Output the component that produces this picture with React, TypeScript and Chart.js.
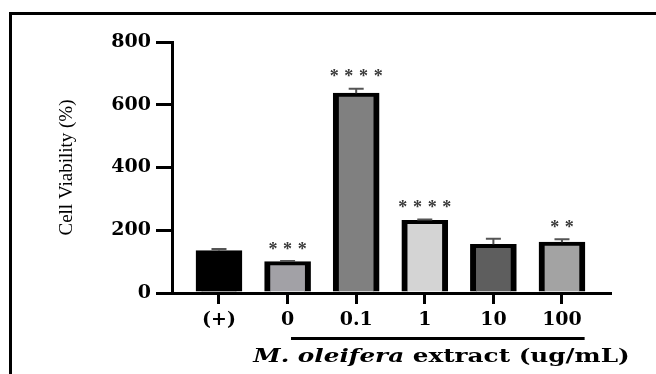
import React, { useEffect, useRef } from "react";
import { Chart, registerables } from "chart.js";

Chart.register(...registerables);

const categories = ["(+)", "0", "0.1", "1", "10", "100"];
const viability = [135, 100, 637, 232, 155, 162];
const sem = [5, 2, 14, 2, 18, 9];
const stars = ["", "***", "****", "****", "", "**"];
const barColors = ["#000000", "#a2a1a6", "#808080", "#d4d4d4", "#5e5e5e", "#a3a3a3"];
const yTickValues = [0, 200, 400, 600, 800];
const yTitle = "Cell Viability (%)";
const xTitleItalic = "M. oleifera";
const xTitleRest = " extract (ug/mL)";

const tickFont = { family: "'DejaVu Serif'", size: 19, weight: "bold" as const };

const annotations = {
  id: "annotations",
  afterDatasetsDraw(chart: any) {
    const ctx = chart.ctx;
    const x = chart.scales.x;
    const y = chart.scales.y;
    ctx.save();
    // error bars
    ctx.strokeStyle = "#555555";
    ctx.lineWidth = 2;
    viability.forEach((v, i) => {
      const px = x.getPixelForValue(i);
      const top = y.getPixelForValue(v);
      const e = y.getPixelForValue(v + sem[i]);
      ctx.beginPath();
      ctx.moveTo(px, top);
      ctx.lineTo(px, e);
      ctx.moveTo(px - 7.5, e);
      ctx.lineTo(px + 7.5, e);
      ctx.stroke();
    });
    // significance stars
    ctx.fillStyle = "#3a3a3a";
    ctx.font = "bold 18px 'Liberation Serif'";
    ctx.textAlign = "center";
    ctx.textBaseline = "middle";
    stars.forEach((s, i) => {
      if (!s) return;
      const px = x.getPixelForValue(i);
      const py = y.getPixelForValue(viability[i] + sem[i]) - 11;
      const step = 14.7;
      const start = px - ((s.length - 1) * step) / 2;
      for (let k = 0; k < s.length; k++) {
        ctx.fillText(s[k], start + k * step, py);
      }
    });
    // group line and title
    const bottom = chart.chartArea.bottom;
    ctx.strokeStyle = "#000000";
    ctx.lineWidth = 3;
    ctx.beginPath();
    ctx.moveTo(x.getPixelForValue(1.05), bottom + 45.5);
    ctx.lineTo(x.getPixelForValue(5.33), bottom + 45.5);
    ctx.stroke();
    ctx.fillStyle = "#000000";
    ctx.textAlign = "left";
    ctx.textBaseline = "alphabetic";
    const startX = x.getPixelForValue(0.5);
    const stretch = 1.3;
    ctx.translate(startX, bottom + 69);
    ctx.scale(stretch, 1);
    ctx.font = "italic bold 19px 'DejaVu Serif'";
    ctx.fillText(xTitleItalic, 0, 0);
    const w = ctx.measureText(xTitleItalic).width;
    ctx.font = "bold 19px 'DejaVu Serif'";
    ctx.fillText(xTitleRest, w, 0);
    ctx.restore();
  },
};

export default function App() {
  const ref = useRef<HTMLCanvasElement | null>(null);
  useEffect(() => {
    if (!ref.current) return;
    const chart = new Chart(ref.current, {
      type: "bar",
      data: {
        datasets: [
          {
            data: categories.map((_, i) => ({ x: i, y: viability[i] })),
            backgroundColor: barColors,
            borderColor: "#000000",
            borderWidth: { left: 6, right: 6, top: 4, bottom: 0 } as any,
            borderSkipped: "bottom",
            barThickness: 46,
          },
        ],
      },
      options: {
        responsive: false,
        animation: false,
        devicePixelRatio: 1,
        layout: { padding: { left: 0, top: 42, right: 46, bottom: 0 } },
        plugins: { legend: { display: false }, tooltip: { enabled: false } },
        scales: {
          x: {
            type: "linear",
            min: -0.685,
            max: 5.7,
            offset: false,
            afterBuildTicks: (scale: any) => {
              scale.ticks = categories.map((_, i) => ({ value: i }));
            },
            afterFit: (scale: any) => {
              scale.height = 81;
            },
            ticks: {
              autoSkip: false,
              maxRotation: 0,
              padding: 5,
              color: "#000000",
              font: tickFont,
              callback: (v: any) => categories[v] ?? "",
            },
            grid: {
              offset: false,
              drawOnChartArea: false,
              drawTicks: true,
              tickLength: 11,
              tickWidth: 3,
              lineWidth: 3,
              color: "#000000",
            },
            border: { display: true, color: "#000000", width: 3 },
          },
          y: {
            min: 0,
            max: 800,
            afterBuildTicks: (scale: any) => {
              scale.ticks = yTickValues.map((v) => ({ value: v }));
            },
            afterFit: (scale: any) => {
              scale.width = 172;
            },
            ticks: {
              padding: 5,
              color: "#000000",
              font: tickFont,
            },
            grid: {
              drawOnChartArea: false,
              drawTicks: true,
              tickLength: 16,
              tickWidth: 3,
              lineWidth: 3,
              color: "#000000",
            },
            border: { display: true, color: "#000000", width: 3 },
            title: {
              display: true,
              text: yTitle,
              color: "#000000",
              font: { family: "'Liberation Serif'", size: 19 },
              padding: { top: 56, bottom: 0 },
            },
          },
        },
      },
      plugins: [annotations],
    });
    return () => chart.destroy();
  }, []);
  return (
    <div style={{ position: "fixed", left: 0, top: 0, width: 656, height: 374, background: "#ffffff", overflow: "hidden" }}>
      <div
        style={{
          position: "absolute",
          left: 9,
          top: 12,
          right: 0,
          bottom: 0,
          borderLeft: "3px solid #000",
          borderTop: "3px solid #000",
        }}
      />
      <canvas ref={ref} width={656} height={374} style={{ position: "absolute", left: 0, top: 0 }} />
    </div>
  );
}
